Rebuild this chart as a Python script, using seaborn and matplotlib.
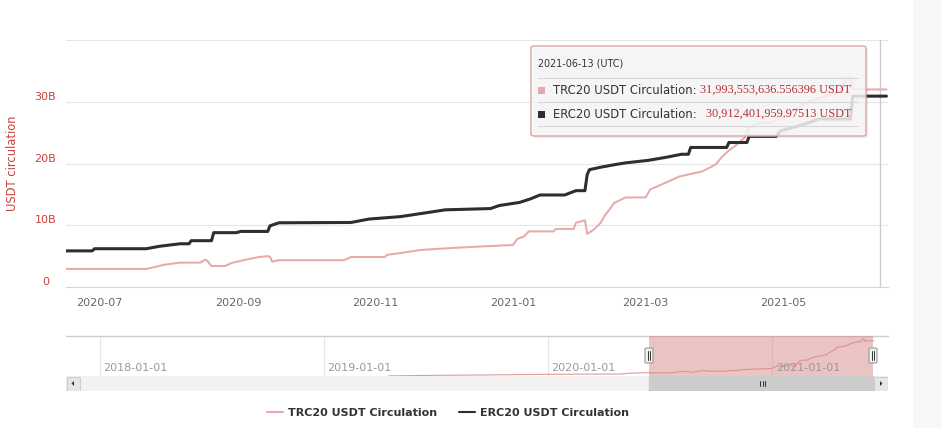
import matplotlib
matplotlib.use('Agg')
import matplotlib.pyplot as plt
import matplotlib.transforms as mtransforms
from matplotlib.patches import FancyBboxPatch, Rectangle, Polygon
from matplotlib.lines import Line2D
import seaborn as sns
import pandas as pd

# ---------------- data ----------------
erc_dates = ['2020-06-16', '2020-06-28', '2020-06-29', '2020-07-22', '2020-07-28', '2020-08-06',
             '2020-08-10', '2020-08-11', '2020-08-20', '2020-08-21', '2020-08-31', '2020-09-02',
             '2020-09-14', '2020-09-15', '2020-09-19', '2020-10-21', '2020-10-29', '2020-11-12',
             '2020-11-23', '2020-12-02', '2020-12-22', '2020-12-26', '2021-01-04', '2021-01-09',
             '2021-01-13', '2021-01-24', '2021-01-29', '2021-02-02', '2021-02-03', '2021-02-04',
             '2021-02-09', '2021-02-15', '2021-02-20', '2021-03-02', '2021-03-10', '2021-03-17',
             '2021-03-20', '2021-03-21', '2021-04-06', '2021-04-07', '2021-04-15', '2021-04-16',
             '2021-04-28', '2021-04-30', '2021-05-10', '2021-05-17', '2021-05-31', '2021-06-01',
             '2021-06-16']
erc_values = [5.85, 5.85, 6.2, 6.2, 6.6, 7.0,
              7.0, 7.5, 7.5, 8.8, 8.8, 9.0,
              9.0, 9.9, 10.4, 10.45, 11.0, 11.4,
              12.0, 12.5, 12.7, 13.2, 13.7, 14.3,
              14.9, 14.9, 15.6, 15.6, 18.2, 19.0,
              19.4, 19.8, 20.1, 20.5, 21.0, 21.5,
              21.5, 22.6, 22.6, 23.4, 23.4, 24.4,
              24.4, 25.3, 26.3, 27.2, 27.2, 30.91,
              30.91]

trc_dates = ['2020-06-16', '2020-07-22', '2020-07-26', '2020-07-30', '2020-08-06', '2020-08-15',
             '2020-08-17', '2020-08-18', '2020-08-20', '2020-08-26', '2020-08-29', '2020-09-04',
             '2020-09-10', '2020-09-14', '2020-09-15', '2020-09-16', '2020-09-19', '2020-10-18',
             '2020-10-21', '2020-11-05', '2020-11-06', '2020-11-12', '2020-11-21', '2020-12-04',
             '2020-12-17', '2021-01-01', '2021-01-03', '2021-01-06', '2021-01-08', '2021-01-19',
             '2021-01-20', '2021-01-28', '2021-01-29', '2021-02-02', '2021-02-03', '2021-02-06',
             '2021-02-09', '2021-02-11', '2021-02-13', '2021-02-15', '2021-02-20', '2021-03-01',
             '2021-03-03', '2021-03-10', '2021-03-16', '2021-03-26', '2021-04-01', '2021-04-04',
             '2021-04-07', '2021-04-10', '2021-04-14', '2021-04-16', '2021-04-21', '2021-04-25',
             '2021-05-02', '2021-05-09', '2021-05-13', '2021-05-20', '2021-05-26', '2021-05-29',
             '2021-05-31', '2021-06-01', '2021-06-16']
trc_values = [2.93, 2.93, 3.25, 3.6, 3.95, 3.95,
              4.4, 4.3, 3.4, 3.4, 3.9, 4.4,
              4.85, 5.0, 4.9, 4.1, 4.35, 4.35,
              4.85, 4.85, 5.2, 5.5, 6.0, 6.3,
              6.55, 6.8, 7.8, 8.2, 9.0, 9.0,
              9.4, 9.4, 10.4, 10.8, 8.6, 9.3,
              10.4, 11.7, 12.6, 13.6, 14.5, 14.5,
              15.8, 16.9, 17.9, 18.7, 19.8, 21.1,
              22.1, 22.9, 24.2, 25.8, 26.6, 26.6,
              27.6, 29.3, 30.1, 30.9, 31.5, 33.8,
              33.8, 31.99, 31.99]

# older TRC20 history that only shows in the navigator
nav_hist_dates = ['2019-04-17', '2019-07-01', '2019-10-01', '2020-01-01', '2020-03-01',
                  '2020-04-28', '2020-05-14', '2020-06-01']
nav_hist_values = [0.1, 0.6, 1.0, 1.5, 1.7, 1.8, 2.6, 2.9]

y_ticks = [0, 10, 20, 30, 40]
y_tick_labels = ['0', '10B', '20B', '30B', '']
x_tick_dates = ['2020-07-01', '2020-09-01', '2020-11-01', '2021-01-01', '2021-03-01', '2021-05-01']
x_tick_labels = ['2020-07', '2020-09', '2020-11', '2021-01', '2021-03', '2021-05']
nav_tick_dates = ['2018-01-01', '2019-01-01', '2020-01-01', '2021-01-01']
nav_tick_labels = ['2018-01-01', '2019-01-01', '2020-01-01', '2021-01-01']

series_names = ['TRC20 USDT Circulation', 'ERC20 USDT Circulation']
tooltip_date = '2021-06-13'
tooltip_values = ['31,993,553,636.556396 USDT', '30,912,401,959.97513 USDT']

# ---------------- style ----------------
TRC_COLOR = '#e6aaaa'
ERC_COLOR = '#2e2e2e'
RED = '#c8403a'

sns.set_style('white')
plt.rcParams['font.family'] = ['DejaVu Sans']

W, H = 941, 428
fig = plt.figure(figsize=(W / 100, H / 100), dpi=100)
fig.patch.set_facecolor('white')


def fx(x):
    return x / W


def fy(y):
    return 1 - y / H


# right grey strip
fig.patches.append(Rectangle((fx(913), 0), fx(W - 913), 1, transform=fig.transFigure,
                             fc='#f7f7f7', ec='none', zorder=0))

# ---------------- main chart ----------------
ax = fig.add_axes([fx(66), fy(287), fx(822), 247 / H])
trc_df = pd.DataFrame({'date': pd.to_datetime(trc_dates), 'value': trc_values})
erc_df = pd.DataFrame({'date': pd.to_datetime(erc_dates), 'value': erc_values})
sns.lineplot(data=trc_df, x='date', y='value', ax=ax, color=TRC_COLOR, linewidth=1.45, zorder=3)
sns.lineplot(data=erc_df, x='date', y='value', ax=ax, color=ERC_COLOR, linewidth=2.2, zorder=4)

ax.set_xlim(pd.Timestamp('2020-06-16 08:00'), pd.Timestamp('2021-06-16 17:00'))
ax.set_ylim(0, 40)
ax.set_yticks(y_ticks)
ax.set_yticklabels(y_tick_labels)
ax.set_xticks(pd.to_datetime(x_tick_dates))
ax.set_xticklabels(x_tick_labels)
ax.grid(axis='y', color='#e6e6e6', linewidth=0.8)
ax.grid(axis='x', visible=False)
for s in ['top', 'right', 'left']:
    ax.spines[s].set_visible(False)
ax.spines['bottom'].set_color('#ccd6eb')
ax.spines['bottom'].set_linewidth(0.8)
ax.tick_params(axis='x', length=7.2, width=0.8, color='#ccd6eb', labelcolor='#666666',
               labelsize=8, pad=1)
ax.tick_params(axis='y', length=0, labelcolor=RED, labelsize=8, pad=14.8)
for lab in ax.get_yticklabels():
    lab.set_horizontalalignment('center')
    lab.set_verticalalignment('bottom')
ax.set_xlabel('')
ax.set_ylabel('USDT circulation', color=RED, fontsize=8.3)
ax.yaxis.set_label_coords((19 - 66) / 822, 0.5)

# crosshair
ax.axvline(pd.Timestamp(tooltip_date), color='#cccccc', linewidth=1, zorder=2)

# ---------------- navigator ----------------
nav = fig.add_axes([fx(66), fy(376), fx(822), 40 / H])
nav_df = pd.DataFrame({'date': pd.to_datetime(nav_hist_dates + trc_dates),
                       'value': nav_hist_values + trc_values})
nav.axvspan(pd.Timestamp('2020-06-14'), pd.Timestamp('2021-06-15'), fc='#d78989', alpha=0.5,
            ec='none', zorder=3)
sns.lineplot(data=nav_df, x='date', y='value', ax=nav, color='#e09a9a', linewidth=0.8, zorder=2)
nav.set_xlim(pd.Timestamp('2017-11-07'), pd.Timestamp('2021-07-09'))
nav.set_ylim(0, 36.4)
nav.set_xticks([])
nav.set_yticks([])
nav.set_xlabel('')
nav.set_ylabel('')
for s in ['bottom', 'right', 'left']:
    nav.spines[s].set_visible(False)
nav.spines['top'].set_color('#cccccc')
nav.spines['top'].set_linewidth(1.0)
trans = mtransforms.blended_transform_factory(nav.transData, nav.transAxes)
for d, lab in zip(nav_tick_dates, nav_tick_labels):
    nav.axvline(pd.Timestamp(d), color='#e6e6e6', linewidth=0.8, zorder=1)
    nav.text(pd.Timestamp(d) + pd.Timedelta(days=6), 0.2, lab, transform=trans, ha='left',
             va='center', color='#999999', fontsize=8, zorder=4)

# navigator handles
for hx in [649, 873]:
    fig.patches.append(FancyBboxPatch((fx(hx - 4), fy(363)), fx(8), 15 / H,
                                      boxstyle='round,pad=0,rounding_size=0.002',
                                      transform=fig.transFigure, fc='#f2f2f2', ec='#999999',
                                      lw=0.8, zorder=10))
    for dx in [-1.3, 1.3]:
        fig.lines.append(Line2D([fx(hx + dx), fx(hx + dx)], [fy(351), fy(360)],
                                transform=fig.transFigure, color='#333333', lw=0.7, zorder=11))

# ---------------- scrollbar ----------------
sb = fig.add_axes([fx(66), fy(391), fx(822), 15 / H])
sb.set_xlim(0, 822)
sb.set_ylim(0, 15)
sb.axis('off')
sb.add_patch(Rectangle((0, 0), 822, 15, fc='#f2f2f2', ec='#f2f2f2'))
sb.add_patch(Rectangle((649 - 66, 0), 873 - 649, 15, fc='#cccccc', ec='#cccccc'))
sb.add_patch(Rectangle((0.5, 0.5), 13.5, 14, fc='#e6e6e6', ec='#cccccc', lw=0.8))
sb.add_patch(Rectangle((808, 0.5), 13.5, 14, fc='#e6e6e6', ec='#cccccc', lw=0.8))
sb.add_patch(Polygon([[5.5, 7.5], [8, 5], [8, 10]], closed=True, fc='#333333', ec='none'))
sb.add_patch(Polygon([[816.5, 7.5], [814, 5], [814, 10]], closed=True, fc='#333333', ec='none'))
for gx in [694, 696.5, 699]:
    sb.plot([gx, gx], [5, 10], color='#333333', lw=0.7)

# ---------------- tooltip ----------------
fig.patches.append(FancyBboxPatch((fx(533), fy(138)), fx(335), 90 / H,
                                  boxstyle='round,pad=0,rounding_size=0.004',
                                  transform=fig.transFigure, fc=(0, 0, 0, 0.08), ec='none',
                                  zorder=19))
fig.patches.append(FancyBboxPatch((fx(531), fy(136)), fx(335), 90 / H,
                                  boxstyle='round,pad=0,rounding_size=0.004',
                                  transform=fig.transFigure, fc=(0.97, 0.97, 0.97, 0.85),
                                  ec='#e3a3a3', lw=1.0, zorder=20))
fig.text(fx(538), fy(64), tooltip_date + ' (UTC)', fontsize=6.9, color='#333333',
         va='center', ha='left', zorder=21)
for ly in [78, 102, 126]:
    fig.lines.append(Line2D([fx(538), fx(858)], [fy(ly), fy(ly)], transform=fig.transFigure,
                            color='#d8d8d8', lw=0.8, zorder=21))
for row_y, name, val, col in zip([90, 114], series_names, tooltip_values, [TRC_COLOR, ERC_COLOR]):
    fig.patches.append(Rectangle((fx(538), fy(row_y + 3.5)), fx(7), 7 / H,
                                 transform=fig.transFigure, fc=col, ec='none', zorder=21))
    fig.text(fx(553), fy(row_y), name + ':', fontsize=8.4, color='#333333', va='center',
             ha='left', zorder=21)
    fig.text(fx(851), fy(row_y), val, fontsize=8.8, color='#b5333a', va='center', ha='right',
             family=['Liberation Serif'], zorder=21)

# ---------------- legend ----------------
handles = [Line2D([], [], color=TRC_COLOR, lw=1.5), Line2D([], [], color=ERC_COLOR, lw=1.5)]
leg = fig.legend(handles, series_names, loc='center', bbox_to_anchor=(fx(448), fy(413)),
                 bbox_transform=fig.transFigure, ncol=2, frameon=False, fontsize=8,
                 handlelength=1.44, handletextpad=0.45, columnspacing=1.9)
for t in leg.get_texts():
    t.set_fontweight('bold')
    t.set_color('#333333')

fig.savefig('out.png', dpi=100)
